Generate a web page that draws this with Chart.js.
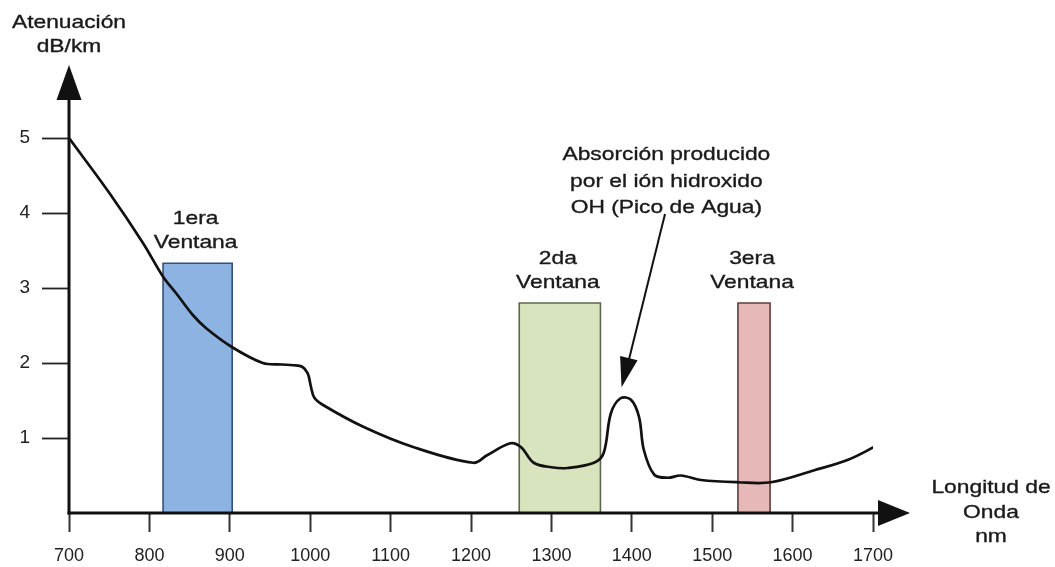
<!DOCTYPE html>
<html>
<head>
<meta charset="utf-8">
<script src="https://cdn.jsdelivr.net/npm/chart.js@4.4.1/dist/chart.umd.min.js"></script>
<style>
  html, body { margin: 0; padding: 0; background: #fff; }
  #wrap { width: 1055px; height: 567px; }
</style>
</head>
<body>
<div id="wrap"><canvas id="myChart" width="1055" height="567"></canvas></div>
<script>
// wavelength (nm) and attenuation (dB/km)
const wavelengths = [700, 750, 792, 817, 834, 854, 871, 903, 941, 965, 979, 990, 997, 1001, 1005, 1016, 1066, 1128, 1203, 1220, 1249, 1262, 1278, 1300, 1320, 1353, 1365, 1374, 1386, 1399, 1409, 1415, 1428, 1445, 1461, 1486, 1532, 1573, 1627, 1669, 1705];
const attenuation = [5.0, 4.27, 3.6, 3.15, 2.92, 2.64, 2.46, 2.21, 2.0, 1.98, 1.97, 1.95, 1.86, 1.68, 1.54, 1.44, 1.15, 0.88, 0.67, 0.77, 0.93, 0.88, 0.67, 0.61, 0.6, 0.67, 0.8, 1.33, 1.53, 1.51, 1.28, 0.84, 0.51, 0.47, 0.5, 0.44, 0.41, 0.41, 0.57, 0.71, 0.9];

// transmission windows
const windowNames = ['1era', '2da', '3era'];
const windowStart = [817, 1260, 1532];
const windowEnd = [903, 1361, 1572];
const windowTop = [3.33, 2.8, 2.8];
const windowFill = ['#8db3e2', '#d7e4bd', '#e6b9b8'];
const windowLine = ['#34507a', '#5e6850', '#5e3e3e'];

const xTicks = [700, 800, 900, 1000, 1100, 1200, 1300, 1400, 1500, 1600, 1700];
const yTicks = [0, 1, 2, 3, 4, 5];

const peakNote = ['Absorción producido', 'por el ión hidroxido', 'OH (Pico de Agua)'];

const FONT = '"Liberation Sans", Arial, sans-serif';
const INK = '#1a1a1a';

const curve = wavelengths.map((w, i) => ({ x: w, y: attenuation[i] }));

const windowSets = windowNames.map((n, i) => ({
  label: n,
  data: [
    { x: windowStart[i], y: 0 },
    { x: windowStart[i], y: windowTop[i] },
    { x: windowEnd[i], y: windowTop[i] },
    { x: windowEnd[i], y: 0 }
  ],
  borderColor: windowLine[i],
  backgroundColor: windowFill[i],
  borderWidth: 1.6,
  fill: 'origin',
  tension: 0,
  pointRadius: 0,
  order: 2
}));

function stretchText(ctx, lines, x, y, size, lh) {
  ctx.save();
  ctx.font = size + 'px ' + FONT;
  ctx.fillStyle = INK;
  ctx.strokeStyle = INK;
  ctx.lineWidth = 0.35;
  ctx.textAlign = 'center';
  ctx.textBaseline = 'middle';
  lines.forEach((t, i) => {
    ctx.save();
    ctx.translate(x, y + i * lh);
    ctx.scale(1.2, 1);
    ctx.fillText(t, 0, 0);
    ctx.strokeText(t, 0, 0);
    ctx.restore();
  });
  ctx.restore();
}

function triangle(ctx, pts) {
  ctx.beginPath();
  ctx.moveTo(pts[0][0], pts[0][1]);
  ctx.lineTo(pts[1][0], pts[1][1]);
  ctx.lineTo(pts[2][0], pts[2][1]);
  ctx.closePath();
  ctx.fill();
}

const decorations = {
  id: 'decorations',
  afterDatasetsDraw(chart) {
    const ctx = chart.ctx;
    const xs = chart.scales.x, ys = chart.scales.y;
    const x0 = xs.getPixelForValue(700);
    const y0 = ys.getPixelForValue(0);
    const xEnd = xs.getPixelForValue(1700);
    const yTop = ys.getPixelForValue(5);

    ctx.save();
    ctx.strokeStyle = '#111';
    ctx.fillStyle = '#111';
    ctx.lineWidth = 3;
    // y axis with arrow
    ctx.beginPath();
    ctx.moveTo(x0, y0 + 1.5);
    ctx.lineTo(x0, yTop - 40);
    ctx.stroke();
    triangle(ctx, [[x0, yTop - 73], [x0 - 12.5, yTop - 38], [x0 + 12.5, yTop - 38]]);
    // x axis with arrow
    ctx.beginPath();
    ctx.moveTo(x0 - 1.5, y0);
    ctx.lineTo(xEnd + 8, y0);
    ctx.stroke();
    triangle(ctx, [[xEnd + 37, y0], [xEnd + 5, y0 - 13], [xEnd + 5, y0 + 13]]);
    ctx.restore();

    // axis titles
    stretchText(ctx, ['Atenuación', 'dB/km'], x0, 23, 19, 24);
    stretchText(ctx, ['Longitud de', 'Onda', 'nm'], xEnd + 118, 488, 19, 24.5);

    // window labels
    windowNames.forEach((n, i) => {
      const cx = (xs.getPixelForValue(windowStart[i]) + xs.getPixelForValue(windowEnd[i])) / 2;
      const top = ys.getPixelForValue(windowTop[i]);
      stretchText(ctx, [n, 'Ventana'], cx - 2, top - 44, 19, 24);
    });

    // water peak note with arrow
    const nx = xs.getPixelForValue(1443);
    stretchText(ctx, peakNote, nx, 155, 19, 26.5);
    const tipX = xs.getPixelForValue(1386) + 1;
    const tipY = ys.getPixelForValue(1.53) - 11;
    ctx.save();
    ctx.strokeStyle = '#111';
    ctx.fillStyle = '#111';
    ctx.lineWidth = 2;
    ctx.beginPath();
    ctx.moveTo(665, 214);
    ctx.lineTo(tipX + 7, tipY - 26);
    ctx.stroke();
    const ang = Math.atan2(tipY - 214, tipX - 665);
    const len = 30, half = 9;
    const bx = tipX - Math.cos(ang) * len, by = tipY - Math.sin(ang) * len;
    triangle(ctx, [[tipX, tipY],
      [bx + Math.sin(ang) * half, by - Math.cos(ang) * half],
      [bx - Math.sin(ang) * half, by + Math.cos(ang) * half]]);
    ctx.restore();
  }
};

const ctx = document.getElementById('myChart');

new Chart(ctx, {
  type: 'line',
  data: {
    datasets: [
      {
        label: 'Atenuación',
        data: curve,
        borderColor: '#111',
        borderWidth: 2.7,
        pointRadius: 0,
        tension: 0.35,
        fill: false,
        order: 1
      },
      ...windowSets
    ]
  },
  options: {
    responsive: false,
    animation: false,
    layout: { padding: { left: 0, top: 138, right: 182, bottom: 0 } },
    plugins: { legend: { display: false }, tooltip: { enabled: false } },
    scales: {
      x: {
        type: 'linear',
        min: 700,
        max: 1700,
        afterBuildTicks: s => { s.ticks = xTicks.map(v => ({ value: v })); },
        afterFit: s => { s.height = 54; },
        border: { display: false },
        grid: { drawOnChartArea: false, tickLength: 19, tickColor: '#333', tickWidth: 2 },
        ticks: {
          color: '#222',
          padding: 13,
          maxRotation: 0,
          autoSkip: false,
          font: { family: FONT, size: 18 },
          callback: v => String(v)
        }
      },
      y: {
        min: 0,
        max: 5,
        afterBuildTicks: s => { s.ticks = yTicks.map(v => ({ value: v })); },
        afterFit: s => { s.width = 69; },
        border: { display: false },
        grid: {
          drawOnChartArea: false,
          tickLength: 27,
          tickWidth: 1.8,
          tickColor: c => (c.tick && c.tick.value === 0 ? 'rgba(0,0,0,0)' : '#222')
        },
        ticks: {
          color: '#222',
          padding: 12,
          font: { family: FONT, size: 19 },
          callback: v => (v === 0 ? '' : String(v))
        }
      }
    }
  },
  plugins: [decorations]
});
</script>
</body>
</html>
